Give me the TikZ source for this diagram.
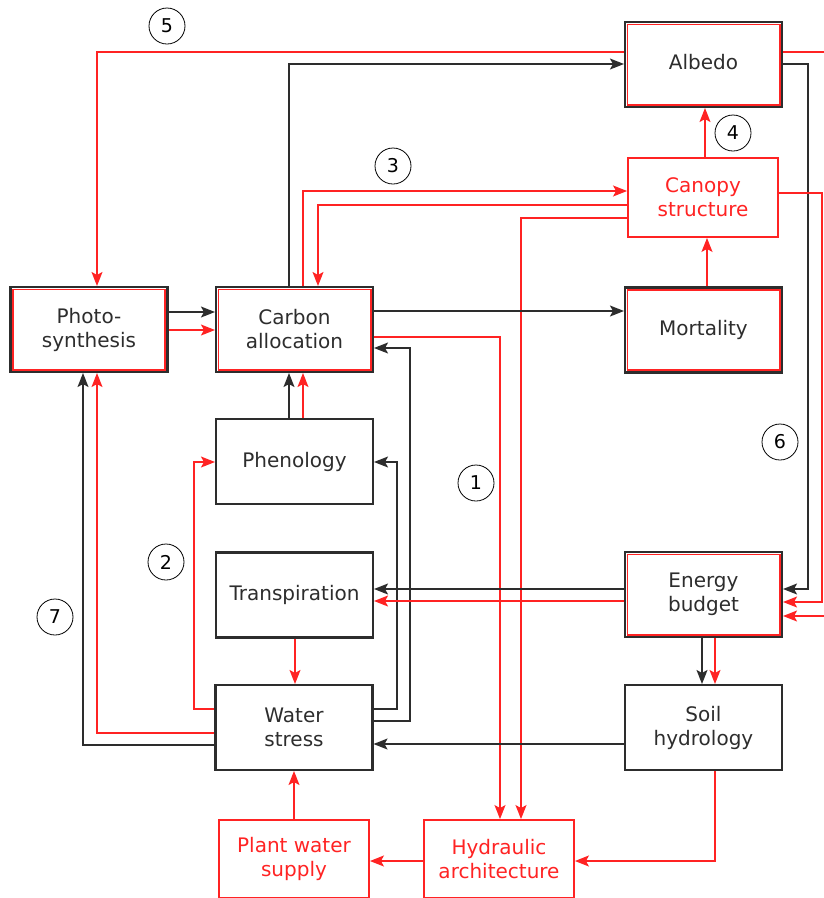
\documentclass[tikz,border=0pt]{standalone}
\usepackage{fontspec}
\setmainfont{DejaVu Sans}
\usetikzlibrary{arrows.meta}
\definecolor{rd}{RGB}{255,35,35}
\definecolor{dk}{RGB}{45,45,45}
\begin{document}
\begin{tikzpicture}[x=1pt,y=-1pt,
  box/.style={draw=dk,line width=2.1pt,minimum width=157pt,minimum height=85pt,inner sep=0pt,
    align=center,text=dk,font=\fontsize{20}{24}\selectfont},
  dbox/.style={box},
  inner/.style={draw=rd,line width=1.9pt},
  rbox/.style={box,draw=rd,text=rd,line width=1.9pt,minimum width=150pt},
  numc/.style={circle,draw=black,line width=0.8pt,minimum size=36pt,inner sep=0pt,
    font=\fontsize{19}{22}\selectfont},
  conn/.style={line width=1.4pt},
  barr/.style={conn,draw=dk,-{Stealth[length=14pt,width=11pt,inset=3pt]}},
  rarr/.style={conn,draw=rd,-{Stealth[length=14pt,width=11pt,inset=3pt]}}]
\useasboundingbox (0,0) rectangle (824,898);
\clip (0,0) rectangle (824,898);
\fill[white] (0,0) rectangle (824,898);

% nodes
\node[dbox] (albedo) at (703.5,64.5) {\raisebox{6pt}{Albedo}};
\node[rbox,minimum height=79pt] (canopy) at (703,197.5) {Canopy\\structure};
\node[dbox] (mort) at (703.5,330) {Mortality};
\node[dbox] (energy) at (703.5,594.5) {Energy\\budget};
\node[box] (soil) at (703.5,727.5) {Soil\\hydrology};
\node[dbox] (photo) at (89,329.5) {Photo-\\synthesis};
\node[dbox] (carbon) at (294.5,329.5) {Carbon\\allocation};
\node[box] (phen) at (294.5,461.5) {Phenology};
\node[box] (transp) at (294.5,595) {Transpiration};
\node[box] (water) at (294,727.5) {Water\\stress};
\node[rbox,minimum height=78pt] (plant) at (294,859) {Plant water\\supply};
\node[rbox,minimum height=78pt] (hydr) at (499,859) {Hydraulic\\architecture};

% inner red frames of the double boxes
\foreach \n in {albedo,mort,energy,photo,carbon}
  \draw[inner] ([shift={(3.5pt,-3.5pt)}]\n.north west) rectangle ([shift={(-3.5pt,3.5pt)}]\n.south east);

% numbers
\node[numc] (n5) at (167,26) {5};
\node[numc] (n3) at (393,166) {3};
\node[numc] (n4) at (733,133) {4};
\node[numc] (n1) at (476,483) {1};
\node[numc] (n6) at (780,442) {6};
\node[numc] (n2) at (166,562) {2};
\node[numc] (n7) at (55,617) {7};

% connectors
\draw[rarr] (albedo.west |- 0,52) -| (photo.north -| 97,0);
\draw[barr] (carbon.north -| 289,0) |- (albedo.west |- 0,64);
\draw[rarr] (carbon.north -| 303,0) |- (canopy.west |- 0,191);
\draw[rarr] (canopy.west |- 0,205) -| (carbon.north -| 318,0);
\draw[rarr] (canopy.west |- 0,218) -| (hydr.north -| 521,0);
\draw[rarr] (canopy.north -| 705,0) -- (albedo.south -| 705,0);
\draw[rarr] (mort.north -| 707,0) -- (canopy.south -| 707,0);
\draw[barr] (photo.east |- 0,312) -- (carbon.west |- 0,312);
\draw[rarr] (photo.east |- 0,330) -- (carbon.west |- 0,330);
\draw[barr] (carbon.east |- 0,311) -- (mort.west |- 0,311);
\draw[rarr] (carbon.east |- 0,337) -| (hydr.north -| 500,0);
\draw[barr] (water.east |- 0,721) -| (410,348) -- (carbon.east |- 0,348);
\draw[barr] (water.east |- 0,709) -| (397,462) -- (phen.east |- 0,462);
\draw[barr] (phen.north -| 289,0) -- (carbon.south -| 289,0);
\draw[rarr] (phen.north -| 303,0) -- (carbon.south -| 303,0);
\draw[rarr] (water.west |- 0,709) -| (194,462) -- (phen.west |- 0,462);
\draw[rarr] (water.west |- 0,733) -| (photo.south -| 97,0);
\draw[barr] (water.west |- 0,745) -| (photo.south -| 83,0);
\draw[barr] (energy.west |- 0,589) -- (transp.east |- 0,589);
\draw[rarr] (energy.west |- 0,601) -- (transp.east |- 0,601);
\draw[rarr] (transp.south -| 295,0) -- (water.north -| 295,0);
\draw[barr] (energy.south -| 702,0) -- (soil.north -| 702,0);
\draw[rarr] (energy.south -| 715,0) -- (soil.north -| 715,0);
\draw[barr] (soil.west |- 0,744) -- (water.east |- 0,744);
\draw[rarr] (soil.south -| 715,0) |- (hydr.east |- 0,861);
\draw[rarr] (hydr.west |- 0,861) -- (plant.east |- 0,861);
\draw[rarr] (plant.north -| 294,0) -- (water.south -| 294,0);
\draw[barr] (albedo.east |- 0,64) -| (808,589) -- (energy.east |- 0,589);
\draw[rarr] (canopy.east |- 0,193) -| (822,602) -- (energy.east |- 0,602);
\draw[rarr] (albedo.east |- 0,52) -| (834,616) -- (energy.east |- 0,616);
\end{tikzpicture}
\end{document}
